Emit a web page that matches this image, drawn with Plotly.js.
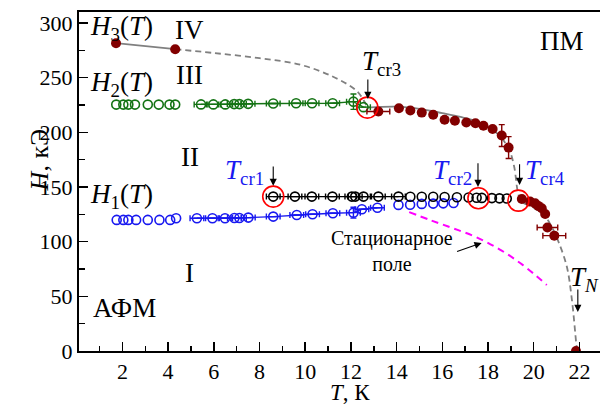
<!DOCTYPE html>
<html>
<head>
<meta charset="utf-8">
<script src="https://cdn.plot.ly/plotly-3.0.1.min.js"></script>
<style>html,body{margin:0;padding:0;background:#fff;}#chart{width:601px;height:406px;}</style>
</head>
<body>
<div id="chart"></div>
<script>
// ---- Data ----
// H3(T): low-temperature points
const h3LowT = [1.72, 4.31];
const h3LowH = [281.5, 276];
// H3(T): points between Tcr3 and Tcr4
const h3MidT = [13.2, 14.1, 14.6, 15.1, 15.6, 16.1, 16.55, 17.05, 17.45, 17.8, 18.2, 18.6, 18.9];
const h3MidH = [219, 222, 220, 218, 216, 211.5, 210.5, 209, 208.3, 206, 203, 197, 186];
const h3MidErrX = [0.5, 0, 0, 0, 0, 0, 0, 0, 0, 0, 0, 0, 0];
const h3MidErrY = [3, 0, 0, 0, 0, 0, 0, 0, 0, 0, 0, 10, 10];
// H3(T): points above Tcr4 down to T_N
const h3HighT = [19.48, 19.84, 20.06, 20.2, 20.35, 20.5, 20.6, 20.9, 21.85];
const h3HighH = [139, 136.6, 135, 132.7, 130.6, 125.3, 113, 105.5, 0];
const h3HighErrX = [0, 0, 0, 0, 0, 0, 0.45, 0.5, 0];

// H2(T)
const h2aT = [1.73, 2.04, 2.26, 2.55, 3.11, 3.59, 4.06, 4.31];
const h2aH = [225.3, 225.3, 225.3, 225.3, 225.3, 225.3, 225.3, 225.3];
const h2bT = [5.44, 5.98, 6.5, 6.89, 7.12, 7.5, 8.6, 9.6, 10.3, 11.2, 12.11, 12.55];
const h2bH = [225.5, 225.5, 225.5, 225.8, 225.8, 226, 226.3, 226.6, 226.6, 226.6, 228, 223];
const h2bErrY = [0, 0, 0, 0, 0, 0, 0, 0, 0, 0, 7, 0];

// H1(T)
const h1aT = [1.75, 2.04, 2.26, 2.6, 3.11, 3.62, 4.09, 4.35];
const h1aH = [119.9, 119.9, 119.9, 119.9, 119.9, 119.9, 119.9, 121.4];
const h1bT = [5.26, 5.94, 6.49, 6.9, 7.12, 7.51, 8.6, 9.63, 10.32, 11.21, 12.11, 12.48, 13.16];
const h1bH = [121.4, 121.4, 121.4, 121.6, 121.6, 122, 122.9, 124.4, 125, 126, 126.5, 129.6, 131];
const h1bErrY = [0, 0, 0, 0, 0, 0, 0, 0, 0, 0, 5, 0, 0];
const h1cT = [14.08, 14.59, 15.1, 15.6, 16.04, 16.49];
const h1cH = [133.6, 133.8, 134.5, 134.8, 135, 135.3];

// Black open circles (between Tcr1 and Tcr4)
const hkaT = [8.6, 9.55, 10.29, 11.19, 12.04, 12.19, 12.55, 13.2, 14.08];
const hkaH = [141.2, 141.2, 141.2, 141.2, 141.2, 141.2, 141.2, 141.2, 141.2];
const hkbT = [14.6, 15.1, 15.6, 16.1, 16.64, 17.15, 17.5, 17.73, 18.17, 18.5, 18.82];
const hkbH = [141, 141, 141, 140.8, 140.6, 140.4, 140.2, 140, 139.8, 139.6, 139.5];

// Critical points (red open circles)
const critT = [8.6, 17.58, 12.72, 19.33];
const critH = [141.2, 139.7, 222.6, 137.5];

// Grey boundary lines
const greyDashAT = [4.31, 6, 8, 9.8, 11.2, 12.2, 12.55, 12.72];
const greyDashAH = [276, 272.5, 267.8, 261.7, 251, 238.8, 229.6, 222.6];
const greySolidT = [12.72, 14, 15, 16, 16.8, 17.5, 18.1, 18.6];
const greySolidH = [222.6, 223.5, 221.5, 217.5, 214, 210, 204, 195];
const greyDashBT = [18.6, 18.95, 19.15, 19.3, 19.45, 20.0, 20.5, 20.8, 21.1, 21.45, 21.67, 21.86, 21.9];
const greyDashBH = [195, 183, 168, 146, 137, 131, 123, 113, 99, 77, 47, 7, 0];

// Stationary-field line (magenta)
const statT = [14.55, 15.5, 16.5, 17.5, 18.5, 19.5, 20.57];
const statH = [127, 119.5, 112, 104, 93, 79, 60.4];

// Tick values
const xTicks = [2, 4, 6, 8, 10, 12, 14, 16, 18, 20, 22];
const yTicks = [0, 50, 100, 150, 200, 250, 300];

// ---- Styles ----
const GREEN = 'rgb(20,115,20)';
const BLUE = 'rgb(25,25,240)';
const DRED = 'rgb(130,0,0)';
const GREY = 'rgb(128,128,128)';
const FONT = 'Liberation Serif, Times New Roman, serif';
const openC = (c) => ({symbol: 'circle-open', size: 9, color: c, line: {width: 1.6, color: c}});
const ex = (c, v) => ({type: 'constant', value: v, color: c, thickness: 1.4, width: 3, visible: true});

const traces = [
  {x: h3LowT, y: h3LowH, mode: 'lines', line: {color: GREY, width: 1.8}},
  {x: greyDashAT, y: greyDashAH, mode: 'lines', line: {color: GREY, width: 1.8, dash: '6px,4px', shape: 'spline'}},
  {x: greySolidT, y: greySolidH, mode: 'lines', line: {color: GREY, width: 1.8, shape: 'spline'}},
  {x: greyDashBT, y: greyDashBH, mode: 'lines', line: {color: GREY, width: 1.8, dash: '6px,4px', shape: 'spline'}},
  {x: statT, y: statH, mode: 'lines', line: {color: 'rgb(255,0,255)', width: 2, dash: '7px,5px', shape: 'spline'}},
  {x: h2aT, y: h2aH, mode: 'markers', marker: openC(GREEN)},
  {x: h2bT, y: h2bH, mode: 'lines+markers', marker: openC(GREEN), line: {color: GREEN, width: 1.4},
   error_x: ex(GREEN, 0.3), error_y: {type: 'data', array: h2bErrY, color: GREEN, thickness: 1.4, width: 3}},
  {x: h1aT, y: h1aH, mode: 'markers', marker: openC(BLUE)},
  {x: h1bT, y: h1bH, mode: 'lines+markers', marker: openC(BLUE), line: {color: BLUE, width: 1.4},
   error_x: ex(BLUE, 0.3), error_y: {type: 'data', array: h1bErrY, color: BLUE, thickness: 1.4, width: 3}},
  {x: h1cT, y: h1cH, mode: 'markers', marker: openC(BLUE)},
  {x: hkaT, y: hkaH, mode: 'lines+markers', marker: openC('black'), line: {color: 'black', width: 1.4},
   error_x: ex('black', 0.3)},
  {x: hkbT, y: hkbH, mode: 'markers', marker: openC('black')},
  {x: h3LowT, y: h3LowH, mode: 'markers', marker: {size: 10, color: DRED}},
  {x: h3MidT, y: h3MidH, mode: 'markers', marker: {size: 10, color: DRED},
   error_x: {type: 'data', array: h3MidErrX, color: DRED, thickness: 1.4, width: 3},
   error_y: {type: 'data', array: h3MidErrY, color: DRED, thickness: 1.4, width: 3}},
  {x: h3HighT, y: h3HighH, mode: 'markers', marker: {size: 10, color: DRED},
   error_x: {type: 'data', array: h3HighErrX, color: DRED, thickness: 1.4, width: 3}},
  {x: critT, y: critH, mode: 'markers', marker: {symbol: 'circle-open', size: 21, color: 'rgb(255,0,0)', line: {width: 1.6, color: 'rgb(255,0,0)'}}}
];

function lbl(x, y, text, size, color, opts) {
  return Object.assign({x: x, y: y, xref: 'x', yref: 'y', text: text, showarrow: false,
    font: {family: FONT, size: size, color: color || 'black'}, xanchor: 'center', yanchor: 'middle'}, opts || {});
}
function arr(x, yTail, yHead, xTail) {
  return {x: x, y: yHead, ax: (xTail === undefined ? x : xTail), ay: yTail, xref: 'x', yref: 'y', axref: 'x', ayref: 'y',
    text: '', showarrow: true, arrowhead: 2, arrowsize: 1.3, arrowwidth: 1.1, arrowcolor: 'black'};
}

const L = 27;
const annotations = [
  lbl(1.98, 295.4, '<i>H</i><sub>3</sub>(<i>T</i>)', L),
  lbl(4.95, 293.6, 'IV', L),
  lbl(1.98, 244.2, '<i>H</i><sub>2</sub>(<i>T</i>)', L),
  lbl(4.95, 252.4, 'III', L),
  lbl(4.95, 177.4, 'II', L),
  lbl(1.98, 141.7, '<i>H</i><sub>1</sub>(<i>T</i>)', L),
  lbl(4.95, 71.3, 'I', L),
  lbl(2.11, 39.3, 'АФМ', L),
  lbl(21.22, 283.5, 'ПМ', L),
  lbl(7.36, 163.7, '<i>T</i><sub>cr1</sub>', L, BLUE),
  lbl(16.45, 163.7, '<i>T</i><sub>cr2</sub>', L, BLUE),
  lbl(13.35, 263.4, '<i>T</i><sub>cr3</sub>', L),
  lbl(20.48, 163.7, '<i>T</i><sub>cr4</sub>', L, BLUE),
  lbl(22.2, 65.8, '<i>T</i><sub><i>N</i></sub>', L),
  lbl(13.79, 91.4, 'Стационарное<br>поле', 20),
  arr(8.6, 170, 151),
  arr(17.56, 173, 150),
  arr(12.74, 249.7, 230.5),
  arr(19.38, 172.2, 151.8),
  arr(21.93, 57.6, 35.7),
  {x: 17.72, y: 98.8, ax: 16.58, ay: 90.5, xref: 'x', yref: 'y', axref: 'x', ayref: 'y', text: '', showarrow: true,
   arrowhead: 2, arrowsize: 1.3, arrowwidth: 1.1, arrowcolor: 'black'},
  {x: -0.075, y: 0.565, xref: 'paper', yref: 'paper', text: '<i>H</i>, кЭ', textangle: -90, showarrow: false,
   font: {family: FONT, size: 26, color: 'black'}, xanchor: 'center', yanchor: 'middle'},
  {x: 0.52, y: 0, xref: 'paper', yref: 'paper', yshift: -55, text: '<i>T</i>, К', showarrow: false,
   font: {family: FONT, size: 23, color: 'black'}, xanchor: 'center', yanchor: 'bottom', borderpad: 0}
];

const axisCommon = {
  showgrid: false, zeroline: false, showline: true, linecolor: 'black', linewidth: 2,
  ticks: 'inside', ticklen: 9, tickwidth: 1.5, tickcolor: 'black',
  tickfont: {family: FONT, size: 22, color: 'black'}
};

const layout = {
  width: 601, height: 406,
  margin: {l: 79, r: 1, t: 12, b: 55},
  paper_bgcolor: 'white', plot_bgcolor: 'white',
  showlegend: false,
  font: {family: FONT, color: 'black'},
  xaxis: Object.assign({}, axisCommon, {
    range: [0.1, 22.9], tickvals: xTicks, ticktext: xTicks.map(String), mirror: true,
    minor: {ticks: 'inside', ticklen: 5, tickwidth: 1.5, tickcolor: 'black', dtick: 1, tick0: 1, showgrid: false}
  }),
  yaxis: Object.assign({}, axisCommon, {
    range: [0, 310], tickvals: yTicks, ticktext: yTicks.map(String),
    minor: {ticks: 'inside', ticklen: 6, tickwidth: 1.5, tickcolor: 'black', dtick: 25, tick0: 0, showgrid: false}
  }),
  annotations: annotations
};

Plotly.newPlot('chart', traces, layout, {displayModeBar: false, staticPlot: true});
</script>
</body>
</html>
